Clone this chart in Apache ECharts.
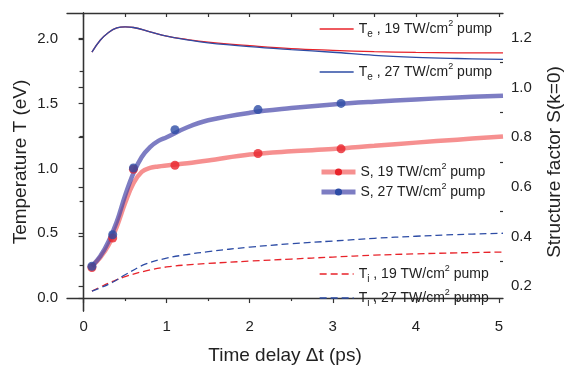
<!DOCTYPE html>
<html><head><meta charset="utf-8">
<script src="https://cdn.jsdelivr.net/npm/echarts@6/dist/echarts.min.js"></script>
<style>html,body{margin:0;padding:0;background:#fff}#c{width:564px;height:367px}</style>
</head><body><div id="c"></div>
<script>
// ---- tick labels ----
const xLabels = [0, 1, 2, 3, 4, 5];
const xMinorTicks = [0.5, 1.5, 2.5, 3.5, 4.5];
const xTopTicks = [0, 0.5, 1, 1.5, 2, 2.5, 3, 3.5, 4, 4.5, 5];
const tLabels = [0, 0.5, 1.0, 1.5, 2.0];
const tMinorTicks = [0.25, 0.75, 1.25, 1.75];
const sLabels = [0.2, 0.4, 0.6, 0.8, 1.0, 1.2];
const sMinorTicks = [0.3, 0.5, 0.7, 0.9, 1.1];

// ---- electron temperature Te (eV) ----
const teX = [0.1, 0.2, 0.3, 0.4, 0.5, 0.6, 0.8, 1.0, 1.25, 1.5, 2.0, 2.5, 3.0, 3.5, 4.0, 4.5, 5.05];
const te19 = [1.898, 1.99, 2.05, 2.085, 2.093, 2.088, 2.055, 2.021, 1.995, 1.975, 1.948, 1.925, 1.912, 1.902, 1.896, 1.893, 1.892];
const te27 = [1.898, 1.99, 2.05, 2.085, 2.093, 2.088, 2.055, 2.021, 1.993, 1.97, 1.94, 1.917, 1.897, 1.873, 1.858, 1.849, 1.842];

// ---- ion temperature Ti (eV) ----
const tiX = [0.1, 0.2, 0.35, 0.5, 0.75, 1.0, 1.25, 1.5, 2.0, 2.5, 3.0, 3.5, 4.0, 4.5, 5.05];
const ti19 = [0.054, 0.085, 0.128, 0.165, 0.21, 0.24, 0.256, 0.267, 0.285, 0.301, 0.316, 0.331, 0.341, 0.349, 0.355];
const ti27 = [0.054, 0.078, 0.122, 0.18, 0.263, 0.308, 0.336, 0.358, 0.393, 0.419, 0.44, 0.461, 0.477, 0.49, 0.5];

// ---- structure factor S(k=0): fits ----
const sFitX = [0.1, 0.2, 0.3, 0.4, 0.5, 0.6, 0.7, 0.8, 0.9, 1.0, 1.25, 1.5, 2.0, 2.5, 3.0, 3.5, 4.0, 4.5, 5.05];
const sFit19 = [0.28, 0.315, 0.365, 0.44, 0.535, 0.615, 0.66, 0.676, 0.682, 0.686, 0.695, 0.706, 0.73, 0.743, 0.752, 0.765, 0.778, 0.79, 0.803];
const sFit27 = [0.28, 0.32, 0.38, 0.46, 0.565, 0.655, 0.72, 0.76, 0.785, 0.80, 0.84, 0.868, 0.898, 0.917, 0.932, 0.943, 0.952, 0.96, 0.967];

// ---- structure factor S(k=0): measured points ----
const sPtX = [0.1, 0.35, 0.6, 1.1, 2.1, 3.1];
const sPt19 = [0.275, 0.394, 0.671, 0.687, 0.734, 0.753];
const sPt27 = [0.28, 0.407, 0.676, 0.830, 0.911, 0.936];

const zip = (xs, ys) => xs.map((x, i) => [x, ys[i]]);

const RED = '#e8232a', BLUE = '#2d4ca5';
const TXT = '#222';
const AX = '#333';
const font = 'Liberation Sans, Arial, sans-serif';

const rich = {
  n: {fontSize: 14, color: TXT, lineHeight: 20, verticalAlign: 'middle', fontFamily: font},
  sub: {fontSize: 10, color: TXT, lineHeight: 9, verticalAlign: 'bottom', fontFamily: font},
  sup: {fontSize: 9, color: TXT, lineHeight: 11, verticalAlign: 'top', fontFamily: font}
};
const legendText = {
  'Te19': '{n|T}{sub|e}{n| , 19 TW/cm}{sup|2}{n| pump}',
  'Te27': '{n|T}{sub|e}{n| , 27 TW/cm}{sup|2}{n| pump}',
  'S19': '{n|S, 19 TW/cm}{sup|2}{n| pump}',
  'S27': '{n|S, 27 TW/cm}{sup|2}{n| pump}',
  'Ti19': '{n|T}{sub|i}{n| , 19 TW/cm}{sup|2}{n| pump}',
  'Ti27': '{n|T}{sub|i}{n| , 27 TW/cm}{sup|2}{n| pump}'
};
function mkLegend(name, centerY, extra) {
  return Object.assign({
    data: [name], left: 319, top: centerY - 10, padding: 0,
    itemWidth: 34, itemHeight: 9, itemGap: 0,
    orient: 'vertical', selectedMode: false,
    formatter: n => legendText[n],
    textStyle: {rich: rich, color: TXT}
  }, extra || {});
}

const chart = echarts.init(document.getElementById('c'), null, {renderer: 'canvas'});
chart.setOption({
  animation: false,
  backgroundColor: '#fff',
  textStyle: {fontFamily: font},
  grid: {left: 67, right: 61, top: 13, bottom: 56, outerBoundsMode: 'none', containLabel: false},
  legend: [
    mkLegend('Te19', 29, {lineStyle: {width: 1.3}, itemStyle: {opacity: 0}}),
    mkLegend('Te27', 72, {lineStyle: {width: 1.3}, itemStyle: {opacity: 0}}),
    mkLegend('S19', 172, {lineStyle: {width: 5}}),
    mkLegend('S27', 192, {lineStyle: {width: 5}}),
    mkLegend('Ti19', 274, {lineStyle: {width: 1.3}, itemStyle: {opacity: 0}}),
    mkLegend('Ti27', 298, {lineStyle: {width: 1.3}, itemStyle: {opacity: 0}})
  ],
  xAxis: [
    {type: 'value', position: 'bottom', min: -0.2, max: 5.05,
     name: 'Time delay \u0394t (ps)', nameLocation: 'middle', nameGap: 35, nameMoveOverlap: false,
     nameTextStyle: {fontSize: 19, color: TXT, fontFamily: font},
     axisLine: {show: true, lineStyle: {color: AX, width: 1.3}},
     axisTick: {show: true, customValues: xLabels, length: 5, inside: false, lineStyle: {color: AX, width: 1.2}},
     axisLabel: {customValues: xLabels, fontSize: 15, color: TXT, margin: 8},
     splitLine: {show: false}},
    {type: 'value', position: 'bottom', min: -0.2, max: 5.05,
     axisLine: {show: false},
     axisTick: {show: true, customValues: xMinorTicks, length: 3, inside: false, lineStyle: {color: AX, width: 1.2}},
     axisLabel: {show: false}, splitLine: {show: false}},
    {type: 'value', position: 'top', min: -0.2, max: 5.05,
     axisLine: {show: true, lineStyle: {color: AX, width: 1.3}},
     axisTick: {show: true, customValues: xTopTicks, length: 4, inside: true, lineStyle: {color: AX, width: 1.2}},
     axisLabel: {show: false}, splitLine: {show: false}}
  ],
  yAxis: [
    {type: 'value', position: 'left', min: -0.1, max: 2.2,
     name: 'Temperature T (eV)', nameLocation: 'middle', nameGap: 37, nameRotate: 90, nameMoveOverlap: false,
     nameTextStyle: {fontSize: 19, color: TXT, fontFamily: font},
     axisLine: {show: true, lineStyle: {color: AX, width: 1.3}},
     axisTick: {show: true, customValues: tLabels, length: 5, inside: false, lineStyle: {color: AX, width: 1.2}},
     axisLabel: {customValues: tLabels, formatter: v => Number(v).toFixed(1), fontSize: 15, color: TXT, margin: 9},
     splitLine: {show: false}},
    {type: 'value', position: 'left', min: -0.1, max: 2.2,
     axisLine: {show: false},
     axisTick: {show: true, customValues: tMinorTicks, length: 4, inside: false, lineStyle: {color: AX, width: 1.2}},
     axisLabel: {show: false}, splitLine: {show: false}},
    {type: 'value', position: 'right', min: 0.1, max: 1.3,
     name: 'Structure factor S(k=0)', nameLocation: 'middle', nameGap: 42, nameRotate: 90, nameMoveOverlap: false,
     nameTextStyle: {fontSize: 19, color: TXT, fontFamily: font},
     axisLine: {show: true, lineStyle: {color: AX, width: 1.3}},
     axisTick: {show: true, customValues: sLabels, length: 5, inside: true, lineStyle: {color: AX, width: 1.2}},
     axisLabel: {customValues: sLabels, formatter: v => Number(v).toFixed(1), fontSize: 15, color: TXT, margin: 8},
     splitLine: {show: false}},
    {type: 'value', position: 'right', min: 0.1, max: 1.3,
     axisLine: {show: false},
     axisTick: {show: true, customValues: sMinorTicks, length: 3, inside: true, lineStyle: {color: AX, width: 1.2}},
     axisLabel: {show: false}, splitLine: {show: false}}
  ],
  series: [
    {name: 'S19', type: 'line', xAxisIndex: 0, yAxisIndex: 2, data: zip(sFitX, sFit19), smooth: 0.4,
     symbol: 'circle', showSymbol: false, symbolSize: 9, z: 2,
     itemStyle: {color: RED}, lineStyle: {color: 'rgba(240,70,70,0.6)', width: 4.5}},
    {name: 'S27', type: 'line', xAxisIndex: 0, yAxisIndex: 2, data: zip(sFitX, sFit27), smooth: 0.4,
     symbol: 'circle', showSymbol: false, symbolSize: 9, z: 3,
     itemStyle: {color: BLUE}, lineStyle: {color: 'rgba(70,70,170,0.7)', width: 4.5}},
    {name: 'S19pts', type: 'scatter', xAxisIndex: 0, yAxisIndex: 2, data: zip(sPtX, sPt19),
     symbol: 'circle', symbolSize: 9, z: 4, itemStyle: {color: RED}},
    {name: 'S27pts', type: 'scatter', xAxisIndex: 0, yAxisIndex: 2, data: zip(sPtX, sPt27),
     symbol: 'circle', symbolSize: 9, z: 5, itemStyle: {color: BLUE}},
    {name: 'Te19', type: 'line', xAxisIndex: 0, yAxisIndex: 0, data: zip(teX, te19), smooth: 0.4,
     symbol: 'none', z: 2, itemStyle: {color: RED}, lineStyle: {color: RED, width: 1.3}},
    {name: 'Te27', type: 'line', xAxisIndex: 0, yAxisIndex: 0, data: zip(teX, te27), smooth: 0.4,
     symbol: 'none', z: 3, itemStyle: {color: BLUE}, lineStyle: {color: BLUE, width: 1.3}},
    {name: 'Ti19', type: 'line', xAxisIndex: 0, yAxisIndex: 0, data: zip(tiX, ti19), smooth: 0.4,
     symbol: 'none', z: 2, itemStyle: {color: RED}, lineStyle: {color: RED, width: 1.3, type: [7, 4]}},
    {name: 'Ti27', type: 'line', xAxisIndex: 0, yAxisIndex: 0, data: zip(tiX, ti27), smooth: 0.4,
     symbol: 'none', z: 3, itemStyle: {color: BLUE}, lineStyle: {color: BLUE, width: 1.3, type: [7, 4]}}
  ]
});
</script>
</body></html>
